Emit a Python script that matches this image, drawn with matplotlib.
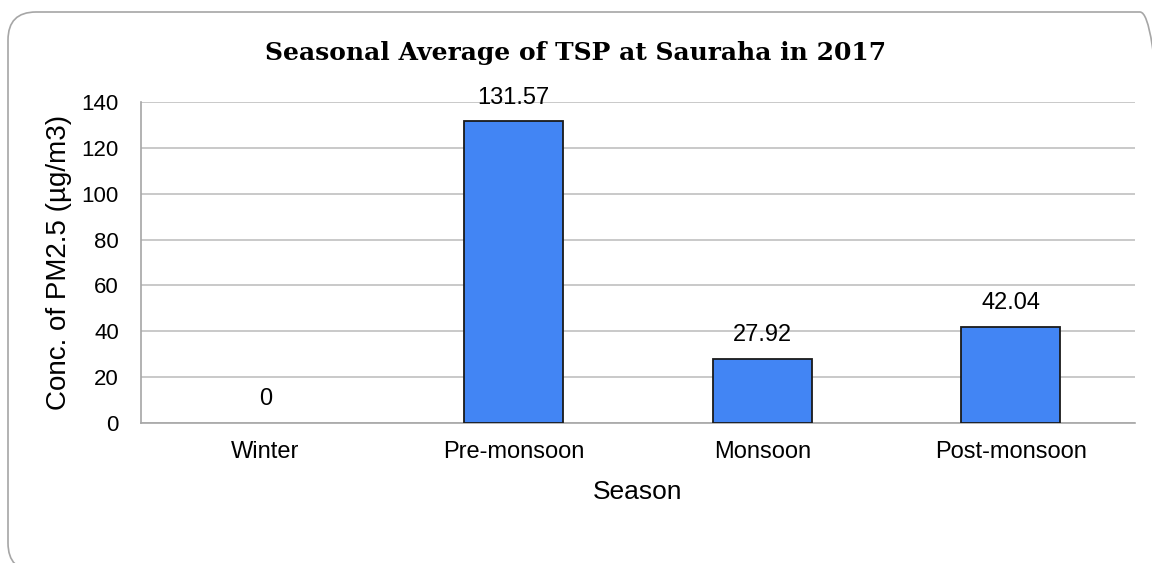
"""Seasonal average of TSP at Sauraha, 2017"""

import matplotlib
matplotlib.use("Agg")
import matplotlib.pyplot as plt
from matplotlib.patches import FancyBboxPatch
from matplotlib.transforms import IdentityTransform

seasons = ["Winter", "Pre-monsoon", "Monsoon", "Post-monsoon"]
conc = [0, 131.57, 27.92, 42.04]
value_labels = ["0", "131.57", "27.92", "42.04"]
yticks = [0, 20, 40, 60, 80, 100, 120, 140]

W, H = 1152, 563
fig = plt.figure(figsize=(W / 100, H / 100), dpi=100)
plt.rcParams["font.family"] = ["Liberation Sans", "DejaVu Sans"]

# rounded frame around the whole chart (pixel coords)
frame = FancyBboxPatch((8, -8), 1160, H - 12 + 8,
                       boxstyle="round,pad=0,rounding_size=28",
                       transform=IdentityTransform(), facecolor="none",
                       edgecolor="#a6a6a6", linewidth=1.2, zorder=-1)
fig.patches.append(frame)

ax = fig.add_axes([141 / W, 1 - 423 / H, 994 / W, 321 / H])
ax.set_facecolor("none")
x = range(len(seasons))
edges = ["none" if v == 0 else "#1a1a1a" for v in conc]
ax.bar(x, conc, width=0.4, color="#4285f4", edgecolor=edges,
       linewidth=1.3, zorder=3)
for i, (v, lab) in enumerate(zip(conc, value_labels)):
    ax.annotate(lab, (i, v), xytext=(0, 17), textcoords="offset points",
                ha="center", va="center", fontsize=17)

ax.set_xlim(-0.5, 3.5)
ax.set_ylim(0, 140)
ax.set_yticks(yticks)
ax.set_xticks(list(x))
ax.set_xticklabels(seasons)
ax.tick_params(axis="both", length=0)
ax.tick_params(axis="x", pad=13, labelsize=17)
ax.tick_params(axis="y", pad=16, labelsize=16)
ax.yaxis.grid(True, color="#c0c0c0", linewidth=1.2, zorder=0)
ax.set_axisbelow(True)
for s in ["top", "right"]:
    ax.spines[s].set_visible(False)
for s in ["left", "bottom"]:
    ax.spines[s].set_color("#a6a6a6")
    ax.spines[s].set_linewidth(1.2)

ax.set_xlabel("Season", fontsize=19, labelpad=12)
ax.set_ylabel("Conc. of PM2.5 (µg/m3)", fontsize=20, labelpad=7)
fig.text(0.5, 1 - 53 / H, "Seasonal Average of TSP at Sauraha in 2017",
         ha="center", va="center", fontsize=18, fontweight="bold",
         family=["DejaVu Serif"])

fig.savefig("out.png", dpi=100)
